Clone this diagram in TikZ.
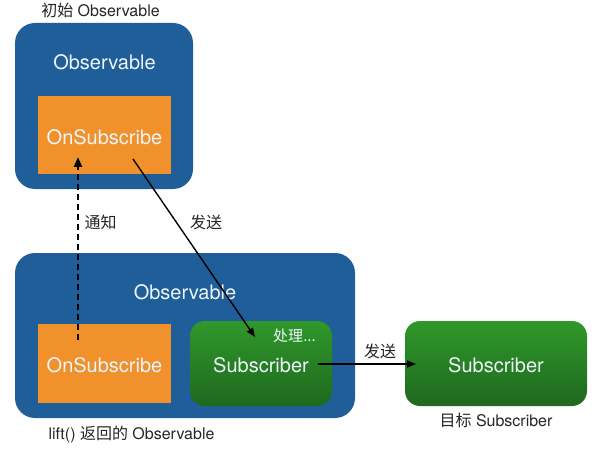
\documentclass[tikz,border=0pt]{standalone}
\usepackage{fontspec}
\setmainfont{TeX Gyre Heros}
\newfontfamily\cjk{Noto Sans CJK SC}
\usetikzlibrary{arrows.meta}
\definecolor{obsblue}{RGB}{31,94,153}
\definecolor{onorange}{RGB}{240,145,44}
\definecolor{subtop}{RGB}{48,152,42}
\definecolor{subbot}{RGB}{30,104,30}
\definecolor{lighttext}{RGB}{236,244,250}
\tikzset{
  obsbox/.style={fill=obsblue, draw=none, rounded corners=20pt, inner sep=0pt},
  onbox/.style={fill=onorange, draw=none, inner sep=0pt},
  subbox/.style={top color=subtop, bottom color=subbot, draw=none, rounded corners=15pt, inner sep=0pt},
  bigtext/.style={text=lighttext, font=\fontsize{20}{23}\selectfont, inner sep=0pt},
  labeltext/.style={text=black!85, font=\fontsize{16}{19}\selectfont, inner sep=0pt},
  arr/.style={line width=1.4pt, -{Triangle[length=9pt,width=7pt]}},
  dasharr/.style={line width=2.2pt, dash pattern=on 6pt off 4pt, -{Triangle[length=10pt,width=8pt]}}
}
\begin{document}
\begin{tikzpicture}[x=1pt,y=-1pt]
\useasboundingbox[fill=white] (0,0) rectangle (599,449);
% top observable
\node[obsbox, minimum width=178pt, minimum height=166pt] (topobs) at (104,106) {};
\node[onbox, minimum width=133pt, minimum height=78pt] (topon) at (104.5,135) {};
\node[bigtext] (topobstxt) at (104.5,62) {Observable};
\node[bigtext] (topontxt) at (104.5,137) {OnSubscribe};
\node[labeltext] (toplabel) at (100.5,10) {{\cjk 初始} Observable};
% bottom observable
\node[obsbox, minimum width=340pt, minimum height=165pt] (botobs) at (185,335.5) {};
\node[onbox, minimum width=133pt, minimum height=79pt] (boton) at (104.5,363.5) {};
\node[subbox, minimum width=142pt, minimum height=85pt] (midsub) at (261,363.5) {};
\node[bigtext] (botobstxt) at (185,292) {Observable};
\node[bigtext] (botontxt) at (104.5,365) {OnSubscribe};
\node[bigtext] (midsubtxt) at (261,365) {Subscriber};
\node[text=lighttext, font=\cjk\fontsize{15}{18}\selectfont, inner sep=0pt] (proc) at (294.5,336) {处理...};
\node[labeltext] (botlabel) at (131.5,434.5) {lift() {\cjk 返回的} Observable};
% target subscriber
\node[subbox, minimum width=182pt, minimum height=85pt] (tgtsub) at (496,363.5) {};
\node[bigtext] (tgtsubtxt) at (496,365) {Subscriber};
\node[labeltext] (tgtlabel) at (496,420) {{\cjk 目标} Subscriber};
% connectors
\coordinate (dashstart) at (78,340);
\coordinate (dashend) at (78,157);
\draw[dasharr] (dashstart) -- (dashend);
\node[labeltext, font=\cjk\fontsize{16}{19}\selectfont] (notify) at (100.5,222) {通知};
\coordinate (sendstart) at (133,159);
\coordinate (sendend) at (255,337);
\draw[arr] (sendstart) -- (sendend);
\node[labeltext, font=\cjk\fontsize{16}{19}\selectfont] (send1) at (206,222) {发送};
\coordinate (hstart) at (318,364);
\coordinate (hend) at (416,364);
\draw[arr] (hstart) -- (hend);
\node[labeltext, font=\cjk\fontsize{16}{19}\selectfont] (send2) at (380,351) {发送};
\end{tikzpicture}
\end{document}
